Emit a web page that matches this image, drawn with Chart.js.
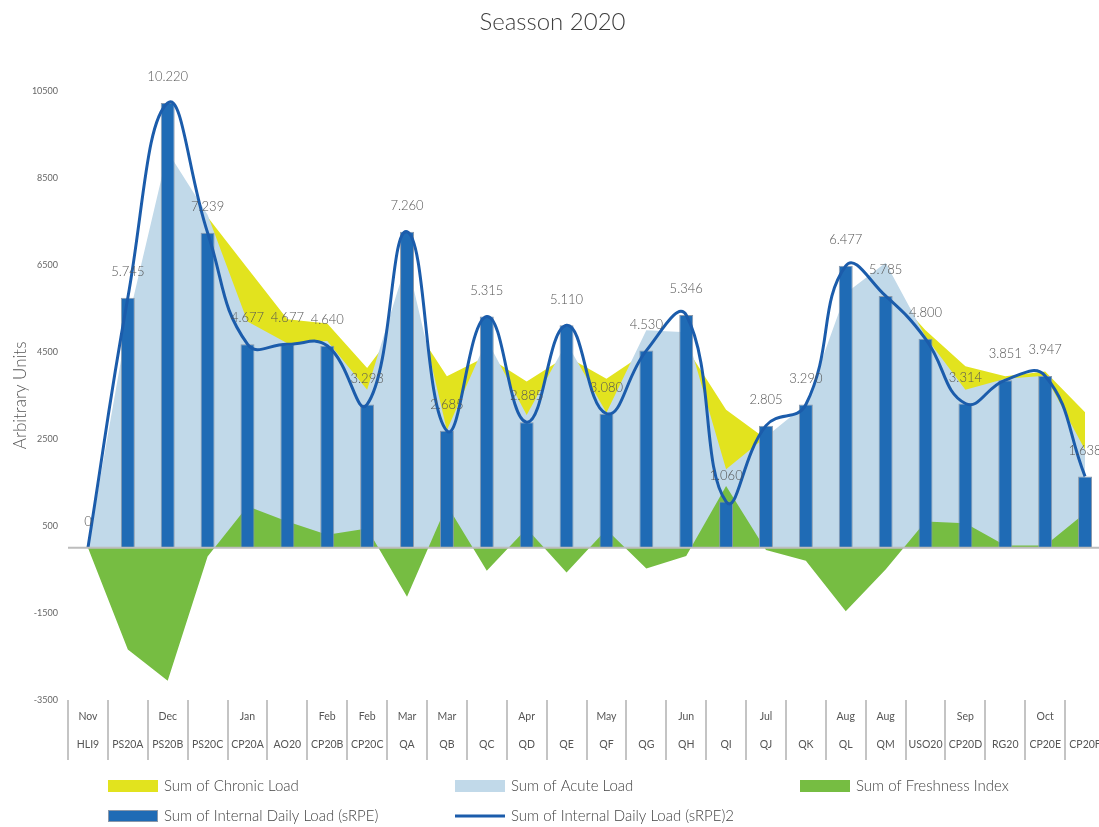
<!DOCTYPE html>
<html>
<head>
<meta charset="utf-8">
<title>Seasson 2020</title>
<script src="https://cdn.jsdelivr.net/npm/chart.js@4.4.0/dist/chart.umd.min.js"></script>
<style>
  html, body { margin: 0; padding: 0; background: #fff; overflow: hidden; }
  #wrap { position: relative; width: 1110px; height: 827px; }
</style>
</head>
<body>
<div id="wrap"><canvas id="myChart"></canvas></div>
<script>
// categories (two-line x labels)
var months = ['Nov', '', 'Dec', '', 'Jan', '', 'Feb', 'Feb', 'Mar', 'Mar', '', 'Apr', '', 'May', '', 'Jun', '', 'Jul', '', 'Aug', 'Aug', '', 'Sep', '', 'Oct', ''];
var codes = ['HLI9', 'PS20A', 'PS20B', 'PS20C', 'CP20A', 'AO20', 'CP20B', 'CP20C', 'QA', 'QB', 'QC', 'QD', 'QE', 'QF', 'QG', 'QH', 'QI', 'QJ', 'QK', 'QL', 'QM', 'USO20', 'CP20D', 'RG20', 'CP20E', 'CP20F'];

// series
var chronicLoad = [0, 4800, 8600, 7600, 6420, 5250, 5150, 4130, 5350, 3940, 4400, 3820, 4400, 3880, 4500, 4600, 3170, 2500, 3200, 5500, 6000, 5000, 4170, 3940, 4050, 3110];
var acuteLoad = [0, 5200, 9100, 7650, 5200, 4700, 4750, 3630, 6600, 2700, 4780, 3050, 4710, 3100, 5000, 4950, 1800, 2550, 3290, 5850, 6550, 4850, 3630, 3880, 3950, 2250];
var freshnessIndex = [0, -2340, -3060, -200, 950, 600, 300, 440, -1130, 980, -530, 440, -570, 420, -480, -190, 1420, -50, -300, -1460, -500, 600, 560, 50, 50, 800];
var internalLoad = [0, 5745, 10220, 7239, 4677, 4677, 4640, 3293, 7260, 2685, 5315, 2885, 5110, 3080, 4530, 5346, 1060, 2805, 3290, 6477, 5785, 4800, 3314, 3851, 3947, 1638];

// y axis tick values
var yTicks = [-3500, -1500, 500, 2500, 4500, 6500, 8500, 10500];

var FONT = "Lato, 'Open Sans', sans-serif";

function fmt(v) {
    return String(v).replace(/\B(?=(\d{3})+(?!\d))/g, '.');
}

var labels = codes.map(function (c, i) { return [months[i], c]; });

// zero line + value labels over the bars
var overlay = {
    id: 'overlay',
    afterDatasetsDraw: function (chart) {
        var ctx = chart.ctx;
        var y0 = chart.scales.y.getPixelForValue(0);
        ctx.save();
        ctx.strokeStyle = '#bdbdbd';
        ctx.lineWidth = 2;
        ctx.beginPath();
        ctx.moveTo(chart.chartArea.left, y0);
        ctx.lineTo(chart.chartArea.right, y0);
        ctx.stroke();

        var meta = chart.getDatasetMeta(3);
        ctx.font = '300 13px ' + FONT;
        ctx.fillStyle = '#555';
        ctx.textAlign = 'center';
        ctx.textBaseline = 'middle';
        meta.data.forEach(function (bar, i) {
            ctx.fillText(fmt(internalLoad[i]), bar.x, bar.y - 26);
        });
        ctx.restore();
    }
};

// legend in a 3 column grid
var legendSpots = [[108, 786], [455, 786], [800, 786], [108, 816], [455, 816]];
var gridLegend = {
    id: 'gridLegend',
    afterDraw: function (chart) {
        var ctx = chart.ctx;
        ctx.save();
        ctx.font = '300 15px ' + FONT;
        ctx.textBaseline = 'middle';
        ctx.textAlign = 'left';
        chart.data.datasets.forEach(function (ds, i) {
            var x = legendSpots[i][0], y = legendSpots[i][1];
            if (ds.type === 'line' && !ds.fill) {
                ctx.strokeStyle = ds.borderColor;
                ctx.lineWidth = 3;
                ctx.beginPath();
                ctx.moveTo(x, y);
                ctx.lineTo(x + 50, y);
                ctx.stroke();
            } else {
                ctx.fillStyle = ds.backgroundColor;
                ctx.fillRect(x, y - 6, 50, 12);
                if (ds.type === 'bar') {
                    ctx.strokeStyle = '#8a98aa';
                    ctx.lineWidth = 1;
                    ctx.strokeRect(x + 0.5, y - 5.5, 49, 11);
                }
            }
            ctx.fillStyle = '#444';
            ctx.fillText(ds.label, x + 56, y);
        });
        ctx.restore();
    }
};

var ctx = document.getElementById('myChart');
var myChart = new Chart(ctx, {
    type: 'bar',
    data: {
        labels: labels,
        datasets: [
            {
                type: 'line',
                label: 'Sum of Chronic Load',
                data: chronicLoad,
                backgroundColor: '#e2e31e',
                borderWidth: 0,
                pointRadius: 0,
                tension: 0,
                fill: 'origin',
                order: 5
            },
            {
                type: 'line',
                label: 'Sum of Acute Load',
                data: acuteLoad,
                backgroundColor: '#c1d9e9',
                borderWidth: 0,
                pointRadius: 0,
                tension: 0,
                fill: 'origin',
                order: 4
            },
            {
                type: 'line',
                label: 'Sum of Freshness Index',
                data: freshnessIndex,
                backgroundColor: '#76bd42',
                borderWidth: 0,
                pointRadius: 0,
                tension: 0,
                fill: 'origin',
                order: 3
            },
            {
                type: 'bar',
                label: 'Sum of Internal Daily Load (sRPE)',
                data: internalLoad,
                backgroundColor: '#1f6bb5',
                borderColor: '#8a98aa',
                borderWidth: 1,
                barPercentage: 0.35,
                categoryPercentage: 1,
                order: 2
            },
            {
                type: 'line',
                label: 'Sum of Internal Daily Load (sRPE)2',
                data: internalLoad,
                borderColor: '#1b5cab',
                borderWidth: 3,
                pointRadius: 0,
                tension: 0.45,
                fill: false,
                order: 1
            }
        ]
    },
    options: {
        responsive: true,
        maintainAspectRatio: false,
        animation: false,
        layout: { padding: { left: 0, right: 5, top: 0, bottom: 57 } },
        plugins: {
            legend: { display: false },
            tooltip: { enabled: false },
            title: {
                display: true,
                text: 'Seasson 2020',
                color: '#3d3d3d',
                font: { family: FONT, size: 24, weight: '300' },
                padding: { top: 8, bottom: 54 }
            }
        },
        scales: {
            x: {
                offset: true,
                border: { display: false },
                grid: {
                    display: true,
                    offset: true,
                    drawOnChartArea: false,
                    drawTicks: true,
                    tickLength: 60,
                    color: '#c4c4c4',
                    lineWidth: 2
                },
                ticks: {
                    autoSkip: false,
                    maxRotation: 0,
                    padding: -57,
                    color: '#555',
                    font: { family: FONT, size: 10.5, lineHeight: '28px' }
                },
                afterFit: function (s) { s.height = 70; }
            },
            y: {
                min: yTicks[0],
                max: yTicks[yTicks.length - 1],
                border: { display: false },
                grid: { display: false, drawTicks: false },
                afterBuildTicks: function (s) {
                    s.ticks = yTicks.map(function (v) { return { value: v }; });
                },
                ticks: {
                    padding: 10,
                    color: '#666',
                    font: { family: FONT, size: 9 },
                    callback: function (v) { return String(v); }
                },
                title: {
                    display: true,
                    text: 'Arbitrary Units',
                    color: '#555',
                    font: { family: FONT, size: 17, weight: '300' },
                    padding: { top: 10, bottom: 0 }
                },
                afterFit: function (s) { s.width = 68; }
            }
        }
    },
    plugins: [overlay, gridLegend]
});
</script>
</body>
</html>
